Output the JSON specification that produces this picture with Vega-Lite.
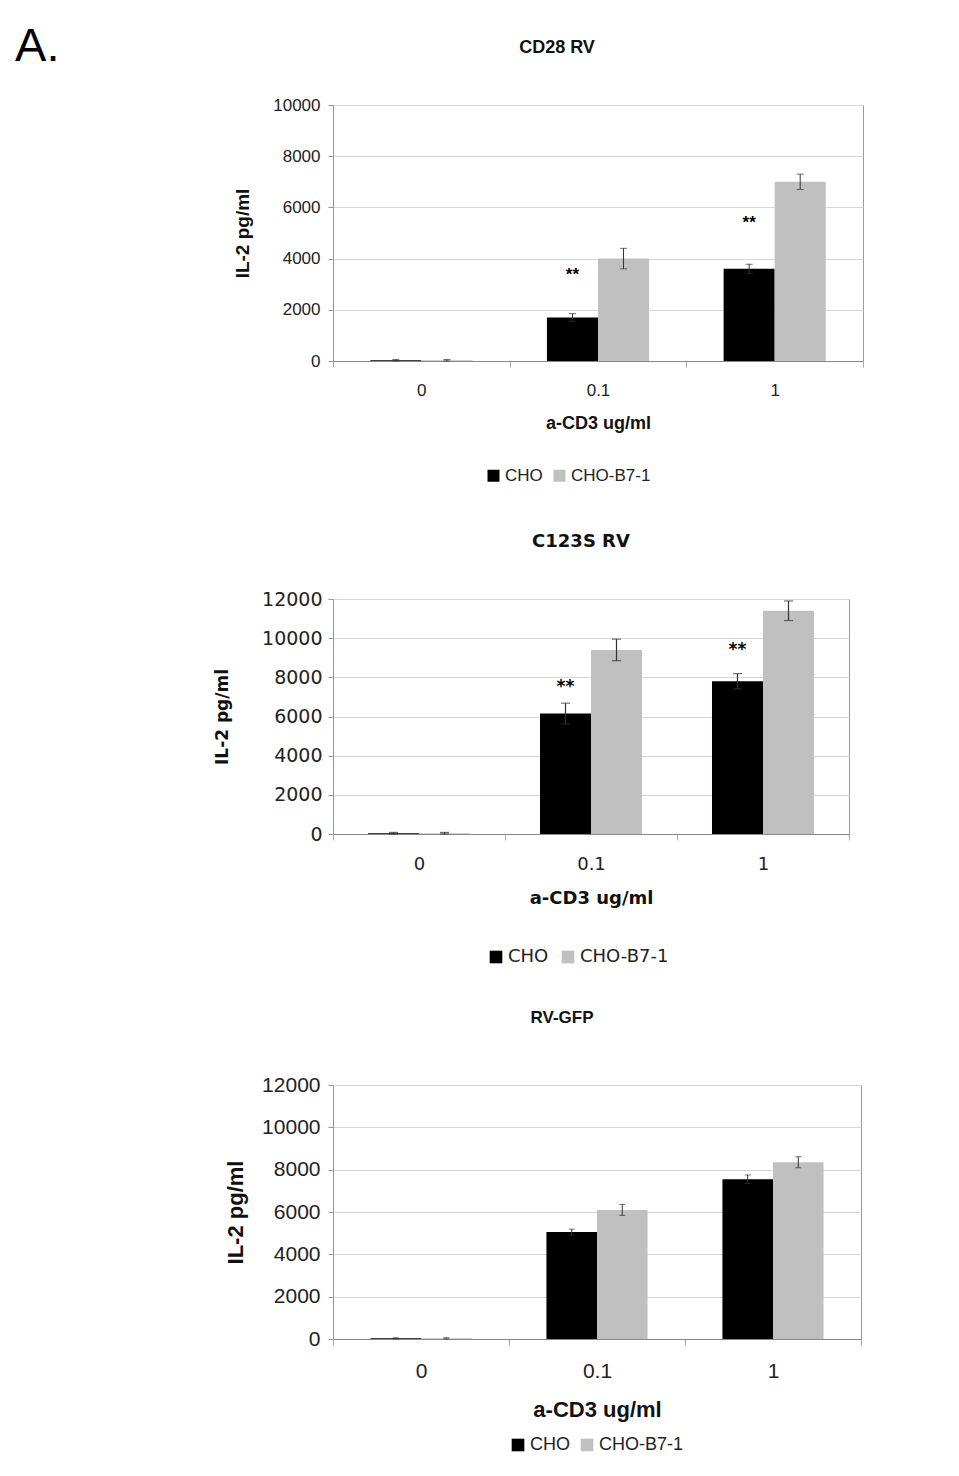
{
  "$schema": "https://vega.github.io/schema/vega-lite/v6.json",
  "background": "white",
  "padding": {"left": 15, "top": 22, "right": 5, "bottom": 5},
  "title": {"text": "A.", "anchor": "start", "font": "Liberation Sans", "fontSize": 47, "fontWeight": "normal", "color": "#000", "dx": -198, "offset": -32},
  "spacing": 41,
  "resolve": {"scale": {"color": "independent", "x": "independent", "y": "independent", "xOffset": "independent"}},
  "config": {"view": {"stroke": "#999", "strokeWidth": 1}},
  "datasets": {
    "bars": [
      {"panel": "CD28 RV", "dose": "0", "cell": "CHO", "il2": 30, "lo": 0, "hi": 60},
      {"panel": "CD28 RV", "dose": "0", "cell": "CHO-B7-1", "il2": 30, "lo": 0, "hi": 60},
      {"panel": "CD28 RV", "dose": "0.1", "cell": "CHO", "il2": 1700, "lo": 1550, "hi": 1850},
      {"panel": "CD28 RV", "dose": "0.1", "cell": "CHO-B7-1", "il2": 4000, "lo": 3600, "hi": 4400},
      {"panel": "CD28 RV", "dose": "1", "cell": "CHO", "il2": 3600, "lo": 3420, "hi": 3780},
      {"panel": "CD28 RV", "dose": "1", "cell": "CHO-B7-1", "il2": 7000, "lo": 6700, "hi": 7300},
      {"panel": "C123S RV", "dose": "0", "cell": "CHO", "il2": 40, "lo": 0, "hi": 80},
      {"panel": "C123S RV", "dose": "0", "cell": "CHO-B7-1", "il2": 40, "lo": 0, "hi": 80},
      {"panel": "C123S RV", "dose": "0.1", "cell": "CHO", "il2": 6150, "lo": 5620, "hi": 6680},
      {"panel": "C123S RV", "dose": "0.1", "cell": "CHO-B7-1", "il2": 9400, "lo": 8850, "hi": 9950},
      {"panel": "C123S RV", "dose": "1", "cell": "CHO", "il2": 7800, "lo": 7410, "hi": 8190},
      {"panel": "C123S RV", "dose": "1", "cell": "CHO-B7-1", "il2": 11400, "lo": 10900, "hi": 11900},
      {"panel": "RV-GFP", "dose": "0", "cell": "CHO", "il2": 30, "lo": 0, "hi": 60},
      {"panel": "RV-GFP", "dose": "0", "cell": "CHO-B7-1", "il2": 30, "lo": 0, "hi": 60},
      {"panel": "RV-GFP", "dose": "0.1", "cell": "CHO", "il2": 5050, "lo": 4910, "hi": 5190},
      {"panel": "RV-GFP", "dose": "0.1", "cell": "CHO-B7-1", "il2": 6100, "lo": 5840, "hi": 6360},
      {"panel": "RV-GFP", "dose": "1", "cell": "CHO", "il2": 7550, "lo": 7350, "hi": 7750},
      {"panel": "RV-GFP", "dose": "1", "cell": "CHO-B7-1", "il2": 8350, "lo": 8090, "hi": 8610}
    ],
    "stars": [
      {"panel": "CD28 RV", "dose": "0.1", "cell": "CHO", "pos": 3500, "label": "**"},
      {"panel": "CD28 RV", "dose": "1", "cell": "CHO", "pos": 5550, "label": "**"},
      {"panel": "C123S RV", "dose": "0.1", "cell": "CHO", "pos": 7700, "label": "**"},
      {"panel": "C123S RV", "dose": "1", "cell": "CHO", "pos": 9580, "label": "**"}
    ]
  },
  "vconcat": [
    {
      "spacing": 47,
      "resolve": {"scale": {"color": "independent", "x": "independent", "y": "independent", "xOffset": "independent"}},
      "vconcat": [
        {
          "width": 530, "height": 256,
          "title": {"text": "CD28 RV", "font": "Liberation Sans", "fontSize": 18, "fontWeight": "bold", "color": "#111", "offset": 39, "dx": -41},
          "data": {"name": "bars"},
          "transform": [{"filter": "datum.panel === 'CD28 RV'"}],
          "encoding": {
            "x": {"field": "dose", "type": "nominal", "sort": ["0", "0.1", "1"], "title": "a-CD3 ug/ml",
              "scale": {"paddingInner": 0, "paddingOuter": 0},
              "axis": {"labelAngle": 0, "tickBand": "extent", "grid": false, "labelFont": "Liberation Sans", "labelFontSize": 17, "labelColor": "#222", "titleFont": "Liberation Sans", "titleFontSize": 18, "titleFontWeight": "bold", "titleColor": "#111", "labelPadding": 15, "titlePadding": 16, "domainColor": "#888", "tickColor": "#aaa", "tickSize": 6}},
            "xOffset": {"field": "cell", "type": "nominal", "sort": ["CHO", "CHO-B7-1"], "scale": {"paddingInner": 0, "paddingOuter": 0.73}}
          },
          "layer": [
            {"mark": {"type": "bar"},
              "encoding": {
                "y": {"field": "il2", "type": "quantitative", "title": "IL-2 pg/ml", "scale": {"domain": [0, 10000]},
                  "axis": {"values": [0, 2000, 4000, 6000, 8000, 10000], "tickCount": 6, "format": "d", "labelOverlap": false, "labelFont": "Liberation Sans", "labelFontSize": 17, "labelColor": "#222", "titleFont": "Liberation Sans", "titleFontSize": 19, "titleFontWeight": "bold", "titleColor": "#111", "labelPadding": 8, "titlePadding": 20, "gridColor": "#d6d6d6", "domainColor": "#999", "tickColor": "#999", "tickSize": 5}},
                "color": {"field": "cell", "type": "nominal", "scale": {"domain": ["CHO", "CHO-B7-1"], "range": ["#000000", "#c0c0c0"]},
                  "legend": {"orient": "none", "legendX": 152, "legendY": 362, "direction": "horizontal", "title": null, "symbolType": "square", "symbolSize": 144, "symbolStrokeWidth": 0, "symbolOpacity": 1, "labelFont": "Liberation Sans", "labelFontSize": 17, "labelColor": "#222", "labelOffset": 3, "columnPadding": 8}}
              }},
            {"mark": {"type": "rule", "color": "#333", "strokeWidth": 1},
              "encoding": {"y": {"field": "lo", "type": "quantitative", "title": "IL-2 pg/ml", "axis": {"values": [0, 2000, 4000, 6000, 8000, 10000], "tickCount": 6}}, "y2": {"field": "hi"}}},
            {"mark": {"type": "tick", "color": "#333", "size": 7, "thickness": 1, "orient": "horizontal"},
              "encoding": {"y": {"field": "hi", "type": "quantitative", "title": "IL-2 pg/ml", "axis": {"values": [0, 2000, 4000, 6000, 8000, 10000], "tickCount": 6}}}},
            {"mark": {"type": "tick", "color": "#333", "size": 7, "thickness": 1, "orient": "horizontal"},
              "encoding": {"y": {"field": "lo", "type": "quantitative", "title": "IL-2 pg/ml", "axis": {"values": [0, 2000, 4000, 6000, 8000, 10000], "tickCount": 6}}}},
            {"data": {"name": "stars"}, "transform": [{"filter": "datum.panel === 'CD28 RV'"}],
              "mark": {"type": "text", "font": "Liberation Sans", "fontSize": 17, "fontWeight": "bold", "color": "#000", "baseline": "middle", "dy": 4},
              "encoding": {"y": {"field": "pos", "type": "quantitative", "title": "IL-2 pg/ml", "axis": {"values": [0, 2000, 4000, 6000, 8000, 10000], "tickCount": 6}}, "text": {"field": "label"}}}
          ]
        },
        {
          "width": 516, "height": 235,
          "title": {"text": "C123S RV", "font": "DejaVu Sans", "fontSize": 18, "fontWeight": "bold", "color": "#111", "offset": 39, "dx": -10},
          "data": {"name": "bars"},
          "transform": [{"filter": "datum.panel === 'C123S RV'"}],
          "encoding": {
            "x": {"field": "dose", "type": "nominal", "sort": ["0", "0.1", "1"], "title": "a-CD3 ug/ml",
              "scale": {"paddingInner": 0, "paddingOuter": 0},
              "axis": {"labelAngle": 0, "tickBand": "extent", "grid": false, "labelFont": "DejaVu Sans", "labelFontSize": 18, "labelColor": "#222", "titleFont": "DejaVu Sans", "titleFontSize": 18, "titleFontWeight": "bold", "titleColor": "#111", "labelPadding": 15, "titlePadding": 16, "domainColor": "#888", "tickColor": "#aaa", "tickSize": 6}},
            "xOffset": {"field": "cell", "type": "nominal", "sort": ["CHO", "CHO-B7-1"], "scale": {"paddingInner": 0, "paddingOuter": 0.686}}
          },
          "layer": [
            {"mark": {"type": "bar"},
              "encoding": {
                "y": {"field": "il2", "type": "quantitative", "title": "IL-2 pg/ml", "scale": {"domain": [0, 12000]},
                  "axis": {"values": [0, 2000, 4000, 6000, 8000, 10000, 12000], "tickCount": 7, "format": "d", "labelOverlap": false, "labelFont": "DejaVu Sans", "labelFontSize": 19, "labelColor": "#222", "titleFont": "DejaVu Sans", "titleFontSize": 17, "titleFontWeight": "bold", "titleColor": "#111", "labelPadding": 6, "titlePadding": 30, "gridColor": "#d6d6d6", "domainColor": "#999", "tickColor": "#999", "tickSize": 5}},
                "color": {"field": "cell", "type": "nominal", "scale": {"domain": ["CHO", "CHO-B7-1"], "range": ["#000000", "#c0c0c0"]},
                  "legend": {"orient": "none", "legendX": 154, "legendY": 349, "direction": "horizontal", "title": null, "symbolType": "square", "symbolSize": 160, "symbolStrokeWidth": 0, "symbolOpacity": 1, "labelFont": "DejaVu Sans", "labelFontSize": 18, "labelColor": "#222", "labelOffset": 3, "columnPadding": 10}}
              }},
            {"mark": {"type": "rule", "color": "#333", "strokeWidth": 1.2},
              "encoding": {"y": {"field": "lo", "type": "quantitative", "title": "IL-2 pg/ml", "axis": {"values": [0, 2000, 4000, 6000, 8000, 10000, 12000], "tickCount": 7}}, "y2": {"field": "hi"}}},
            {"mark": {"type": "tick", "color": "#333", "size": 9, "thickness": 1.2, "orient": "horizontal"},
              "encoding": {"y": {"field": "hi", "type": "quantitative", "title": "IL-2 pg/ml", "axis": {"values": [0, 2000, 4000, 6000, 8000, 10000, 12000], "tickCount": 7}}}},
            {"mark": {"type": "tick", "color": "#333", "size": 9, "thickness": 1.2, "orient": "horizontal"},
              "encoding": {"y": {"field": "lo", "type": "quantitative", "title": "IL-2 pg/ml", "axis": {"values": [0, 2000, 4000, 6000, 8000, 10000, 12000], "tickCount": 7}}}},
            {"data": {"name": "stars"}, "transform": [{"filter": "datum.panel === 'C123S RV'"}],
              "mark": {"type": "text", "font": "DejaVu Sans", "fontSize": 17, "fontWeight": "bold", "color": "#000", "baseline": "middle", "dy": 4},
              "encoding": {"y": {"field": "pos", "type": "quantitative", "title": "IL-2 pg/ml", "axis": {"values": [0, 2000, 4000, 6000, 8000, 10000, 12000], "tickCount": 7}}, "text": {"field": "label"}}}
          ]
        }
      ]
    },
    {
      "width": 528, "height": 254,
      "title": {"text": "RV-GFP", "font": "Liberation Sans", "fontSize": 17, "fontWeight": "bold", "color": "#111", "offset": 47, "dx": -35},
      "data": {"name": "bars"},
      "transform": [{"filter": "datum.panel === 'RV-GFP'"}],
      "encoding": {
        "x": {"field": "dose", "type": "nominal", "sort": ["0", "0.1", "1"], "title": "a-CD3 ug/ml",
          "scale": {"paddingInner": 0, "paddingOuter": 0},
          "axis": {"labelAngle": 0, "tickBand": "extent", "grid": false, "labelFont": "Liberation Sans", "labelFontSize": 21, "labelColor": "#222", "titleFont": "Liberation Sans", "titleFontSize": 22, "titleFontWeight": "bold", "titleColor": "#111", "labelPadding": 15, "titlePadding": 18, "domainColor": "#888", "tickColor": "#aaa", "tickSize": 6}},
        "xOffset": {"field": "cell", "type": "nominal", "sort": ["CHO", "CHO-B7-1"], "scale": {"paddingInner": 0, "paddingOuter": 0.74}}
      },
      "layer": [
        {"mark": {"type": "bar"},
          "encoding": {
            "y": {"field": "il2", "type": "quantitative", "title": "IL-2 pg/ml", "scale": {"domain": [0, 12000]},
              "axis": {"values": [0, 2000, 4000, 6000, 8000, 10000, 12000], "tickCount": 7, "format": "d", "labelOverlap": false, "labelFont": "Liberation Sans", "labelFontSize": 21, "labelColor": "#222", "titleFont": "Liberation Sans", "titleFontSize": 22, "titleFontWeight": "bold", "titleColor": "#111", "labelPadding": 8, "titlePadding": 14, "gridColor": "#d6d6d6", "domainColor": "#999", "tickColor": "#999", "tickSize": 5}},
            "color": {"field": "cell", "type": "nominal", "scale": {"domain": ["CHO", "CHO-B7-1"], "range": ["#000000", "#c0c0c0"]},
              "legend": {"orient": "none", "legendX": 176, "legendY": 351, "direction": "horizontal", "title": null, "symbolType": "square", "symbolSize": 160, "symbolStrokeWidth": 0, "symbolOpacity": 1, "labelFont": "Liberation Sans", "labelFontSize": 18, "labelColor": "#222", "labelOffset": 3, "columnPadding": 8}}
          }},
        {"mark": {"type": "rule", "color": "#333", "strokeWidth": 1},
          "encoding": {"y": {"field": "lo", "type": "quantitative", "title": "IL-2 pg/ml", "axis": {"values": [0, 2000, 4000, 6000, 8000, 10000, 12000], "tickCount": 7}}, "y2": {"field": "hi"}}},
        {"mark": {"type": "tick", "color": "#333", "size": 6, "thickness": 1, "orient": "horizontal"},
          "encoding": {"y": {"field": "hi", "type": "quantitative", "title": "IL-2 pg/ml", "axis": {"values": [0, 2000, 4000, 6000, 8000, 10000, 12000], "tickCount": 7}}}},
        {"mark": {"type": "tick", "color": "#333", "size": 6, "thickness": 1, "orient": "horizontal"},
          "encoding": {"y": {"field": "lo", "type": "quantitative", "title": "IL-2 pg/ml", "axis": {"values": [0, 2000, 4000, 6000, 8000, 10000, 12000], "tickCount": 7}}}}
      ]
    }
  ]
}
